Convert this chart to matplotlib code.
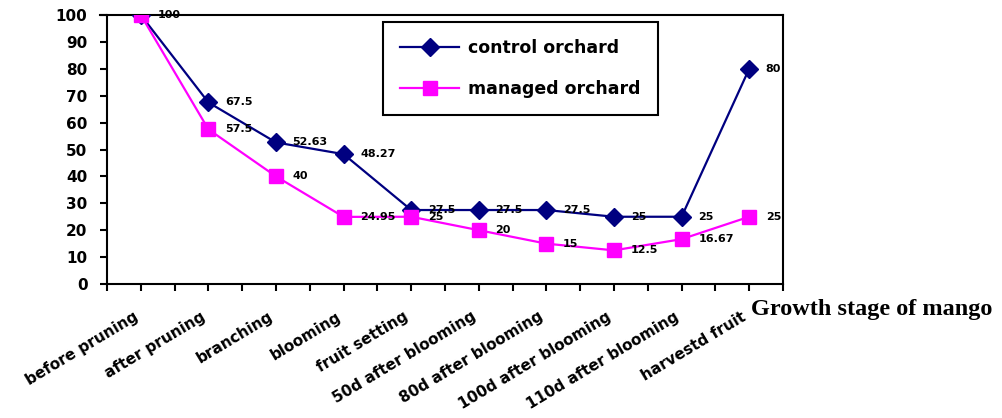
import matplotlib
matplotlib.use("Agg")
import matplotlib.pyplot as plt
import matplotlib.transforms as mtrans
import numpy as np

plt.rcParams['font.family'] = ['DejaVu Sans']

# Data
stages = ['before pruning', 'after pruning', 'branching', 'blooming', 'fruit setting',
          '50d after blooming', '80d after blooming', '100d after blooming',
          '110d after blooming', 'harvestd fruit']
control = [100, 67.5, 52.63, 48.27, 27.5, 27.5, 27.5, 25, 25, 80]
managed = [100, 57.5, 40, 24.95, 25, 20, 15, 12.5, 16.67, 25]
control_labels = ['100', '67.5', '52.63', '48.27', '27.5', '27.5', '27.5', '25', '25', '80']
managed_labels = ['', '57.5', '40', '24.95', '25', '20', '15', '12.5', '16.67', '25']

fig = plt.figure(figsize=(10.03, 4.18), dpi=100)
ax = fig.add_axes([107/1003, 1-284/418, 676/1003, 269/418])

x = np.arange(len(stages))
ax.plot(x, control, color='#000080', lw=1.6, marker='D', ms=9, label='control orchard', zorder=3)
ax.plot(x, managed, color='#FF00FF', lw=1.6, marker='s', ms=10, label='managed orchard', zorder=3)

# data labels
for xi, v, t in zip(x, control, control_labels):
    ax.annotate(t, (xi, v), xytext=(12, 0), textcoords='offset points',
                ha='left', va='center', fontsize=8, fontweight='bold', zorder=4)
for xi, v, t in zip(x, managed, managed_labels):
    if t:
        ax.annotate(t, (xi, v), xytext=(12, 0), textcoords='offset points',
                    ha='left', va='center', fontsize=8, fontweight='bold', zorder=4)

ax.set_xlim(-0.5, len(stages) - 0.5)
ax.set_ylim(0, 100)
ax.set_yticks(np.arange(0, 101, 10))
ax.set_xticks(x)
ax.set_xticks(np.arange(-0.5, len(stages), 1), minor=True)
ax.set_xticklabels(stages, rotation=31, ha='right', va='top', rotation_mode='anchor',
                   fontsize=11, fontweight='bold')
for lab in ax.get_yticklabels():
    lab.set_fontweight('bold')
ax.tick_params(axis='y', labelsize=11, length=5, width=1.5, pad=9)
ax.tick_params(axis='x', which='both', length=5, width=1.5, pad=13)
ax.tick_params(axis='x', which='minor', labelbottom=False)
# shift rotated labels a bit to the left (after tick_params, which resets transforms)
shift = mtrans.ScaledTranslation(-8/100, 0, fig.dpi_scale_trans)
for lab in ax.get_xticklabels():
    lab.set_transform(lab.get_transform() + shift)
for s in ax.spines.values():
    s.set_linewidth(1.5)
ax.spines['top'].set_bounds(-0.6, len(stages) - 0.5)
ax.spines['top'].set_clip_on(False)

leg = ax.legend(loc='upper left', bbox_to_anchor=(383/1003, 1-22/418),
                bbox_transform=fig.transFigure, borderaxespad=0, fancybox=False,
                edgecolor='black', framealpha=1, prop={'size': 12.5, 'weight': 'bold'},
                handlelength=3.4, handletextpad=0.5, borderpad=1.0, labelspacing=1.3)
leg.get_frame().set_linewidth(1.5)

fig.text(751/1003, 1-310/418, 'Growth stage of mango', family='Liberation Serif',
         fontweight='bold', fontsize=17.5, ha='left', va='center')

fig.savefig('out.png', dpi=100)
